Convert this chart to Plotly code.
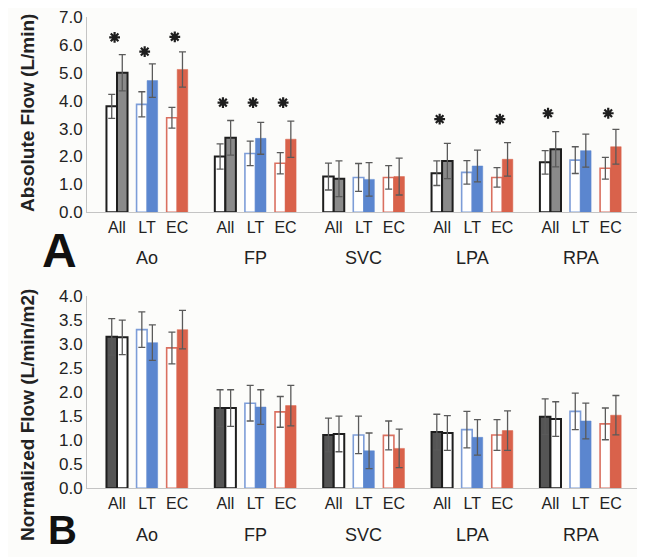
import plotly.graph_objects as go

# ---------------- data ----------------
vessels = ["Ao", "FP", "SVC", "LPA", "RPA"]
subgroups = ["All", "LT", "EC"]

# Panel A: absolute flow (L/min), two bars per subgroup
abs_all_1 = [3.80, 2.00, 1.28, 1.40, 1.79]
abs_all_1_sd = [0.43, 0.45, 0.48, 0.44, 0.42]
abs_all_2 = [5.00, 2.67, 1.20, 1.84, 2.26]
abs_all_2_sd = [0.65, 0.62, 0.64, 0.63, 0.63]
abs_lt_1 = [3.87, 2.11, 1.25, 1.43, 1.87]
abs_lt_1_sd = [0.45, 0.44, 0.50, 0.42, 0.48]
abs_lt_2 = [4.72, 2.65, 1.18, 1.66, 2.21]
abs_lt_2_sd = [0.60, 0.57, 0.60, 0.57, 0.59]
abs_ec_1 = [3.39, 1.76, 1.25, 1.25, 1.58]
abs_ec_1_sd = [0.37, 0.38, 0.42, 0.35, 0.39]
abs_ec_2 = [5.12, 2.62, 1.28, 1.90, 2.35]
abs_ec_2_sd = [0.63, 0.65, 0.66, 0.60, 0.62]

# significance stars in panel A
star_vessel = ["Ao", "Ao", "Ao", "FP", "FP", "FP", "LPA", "LPA", "RPA", "RPA"]
star_sub = ["All", "LT", "EC", "All", "LT", "EC", "All", "EC", "All", "EC"]
star_y = [6.27, 5.76, 6.29, 3.93, 3.93, 3.93, 3.34, 3.34, 3.55, 3.55]

# Panel B: normalized flow (L/min/m2)
norm_all_1 = [3.15, 1.67, 1.11, 1.17, 1.49]
norm_all_1_sd = [0.38, 0.38, 0.35, 0.37, 0.37]
norm_all_2 = [3.14, 1.67, 1.13, 1.15, 1.44]
norm_all_2_sd = [0.36, 0.38, 0.37, 0.36, 0.36]
norm_lt_1 = [3.30, 1.77, 1.11, 1.22, 1.60]
norm_lt_1_sd = [0.37, 0.37, 0.39, 0.38, 0.38]
norm_lt_2 = [3.03, 1.69, 0.78, 1.06, 1.40]
norm_lt_2_sd = [0.37, 0.36, 0.37, 0.37, 0.37]
norm_ec_1 = [2.92, 1.59, 1.10, 1.11, 1.34]
norm_ec_1_sd = [0.33, 0.32, 0.30, 0.32, 0.33]
norm_ec_2 = [3.30, 1.72, 0.83, 1.20, 1.52]
norm_ec_2_sd = [0.40, 0.42, 0.40, 0.41, 0.41]

# ---------------- style / layout ----------------
PAGE_OFF = 8     # default body margin of the page
W, H = 645 - PAGE_OFF, 557 - PAGE_OFF
GSTEP = 3.6      # distance between vessel groups (axis units)
BW = 0.35        # bar width
FONT = "Liberation Sans, Arial, sans-serif"
TXT = "#222222"
ERRC = "#5a5a5a"
BLACK = "#1e1e1e"
GREY_A = "#8a8a8a"
GREY_B = "#555555"
BLUE = "#5b86cf"
BLUE_L = "#7d9dd8"
RED = "#d9624b"
RED_L = "#da7060"
WHITE = "#ffffff"
BG = "#fcfcfa"


def px_y(p):
    return 1 - (p - PAGE_OFF) / H


def px_x(p):
    return (p - PAGE_OFF) / W


def xpos(sub):
    si = subgroups.index(sub)
    return [GSTEP * gi + si for gi in range(len(vessels))]


fig = go.Figure()


def add_bar(sub, side, vals, errs, fill, lc, lw, xa, ya):
    fig.add_trace(go.Bar(
        x=xpos(sub), y=vals, width=BW, offset=-BW if side == 0 else 0.0,
        marker=dict(color=fill, line=dict(color=lc, width=lw)),
        error_y=dict(type="data", array=errs, color=ERRC, thickness=1.3, width=3.5),
        xaxis=xa, yaxis=ya, showlegend=False, hoverinfo="y"))


# Panel A
add_bar("All", 0, abs_all_1, abs_all_1_sd, WHITE, BLACK, 2, "x", "y")
add_bar("All", 1, abs_all_2, abs_all_2_sd, GREY_A, BLACK, 2, "x", "y")
add_bar("LT", 0, abs_lt_1, abs_lt_1_sd, WHITE, BLUE_L, 1.6, "x", "y")
add_bar("LT", 1, abs_lt_2, abs_lt_2_sd, BLUE, BLUE, 0.5, "x", "y")
add_bar("EC", 0, abs_ec_1, abs_ec_1_sd, WHITE, RED_L, 1.6, "x", "y")
add_bar("EC", 1, abs_ec_2, abs_ec_2_sd, RED, RED, 0.5, "x", "y")

# stars
sx = [GSTEP * vessels.index(v) + subgroups.index(s) - 0.08 for v, s in zip(star_vessel, star_sub)]
fig.add_trace(go.Scatter(
    x=sx, y=star_y, mode="markers",
    marker=dict(symbol="asterisk-open", size=9, color=BLACK, line=dict(color=BLACK, width=2.2)),
    xaxis="x", yaxis="y", showlegend=False, hoverinfo="skip"))

# Panel B
add_bar("All", 0, norm_all_1, norm_all_1_sd, GREY_B, BLACK, 2, "x2", "y2")
add_bar("All", 1, norm_all_2, norm_all_2_sd, WHITE, BLACK, 2, "x2", "y2")
add_bar("LT", 0, norm_lt_1, norm_lt_1_sd, WHITE, BLUE_L, 1.6, "x2", "y2")
add_bar("LT", 1, norm_lt_2, norm_lt_2_sd, BLUE, BLUE, 0.5, "x2", "y2")
add_bar("EC", 0, norm_ec_1, norm_ec_1_sd, WHITE, RED_L, 1.6, "x2", "y2")
add_bar("EC", 1, norm_ec_2, norm_ec_2_sd, RED, RED, 0.5, "x2", "y2")

tickvals = [GSTEP * gi + si for gi in range(len(vessels)) for si in range(len(subgroups))]
ticktext = [s for _ in vessels for s in subgroups]

xrange = [-(117 - 87) / 30.1, (640 - 117) / 30.1]
xdom = [px_x(87), min(1.0, px_x(640))]

xcommon = dict(range=xrange, domain=xdom, showline=True, linecolor="#c4c4c4", linewidth=1,
               showgrid=False, zeroline=False, ticks="", tickvals=tickvals, ticktext=ticktext,
               tickfont=dict(size=16, color=TXT, family=FONT), automargin=False)
ycommon = dict(showline=True, linecolor="#c4c4c4", linewidth=1, showgrid=False, zeroline=False,
               ticks="", tickformat=".1f", tickfont=dict(size=17, color=TXT, family=FONT),
               automargin=False, ticklabeloverflow="allow")

fig.update_layout(
    width=W, height=H, margin=dict(l=0, r=0, t=0, b=0),
    paper_bgcolor=BG, plot_bgcolor=BG, barmode="overlay",
    font=dict(family=FONT, color=TXT),
    xaxis=dict(**xcommon, anchor="y"),
    yaxis=dict(**ycommon, range=[0, 7], dtick=1, domain=[px_y(212.3), px_y(17)], anchor="x"),
    xaxis2=dict(**xcommon, anchor="y2"),
    yaxis2=dict(**ycommon, range=[0, 4], dtick=0.5, domain=[px_y(488.3), px_y(296)], anchor="x2"),
)

ann = []
for gi, v in enumerate(vessels):
    for xr, yp in (("x", 258), ("x2", 535)):
        ann.append(dict(x=GSTEP * gi + 1, y=px_y(yp), xref=xr, yref="paper", text=v,
                        showarrow=False, xanchor="center", yanchor="middle",
                        font=dict(size=18, color=TXT, family=FONT)))
ann.append(dict(x=px_x(27), y=px_y(113), xref="paper", yref="paper",
                text="<b>Absolute Flow (L/min)</b>", textangle=-90, showarrow=False,
                xanchor="center", yanchor="middle", font=dict(size=19, color=TXT, family=FONT)))
ann.append(dict(x=px_x(27), y=px_y(415), xref="paper", yref="paper",
                text="<b>Normalized Flow (L/min/m2)</b>", textangle=-90, showarrow=False,
                xanchor="center", yanchor="middle", font=dict(size=19, color=TXT, family=FONT)))
ann.append(dict(x=px_x(79), y=px_y(250), xref="paper", yref="paper", text="<b>A</b>",
                showarrow=False, xanchor="right", yanchor="middle",
                font=dict(size=48, color="#111111", family=FONT)))
ann.append(dict(x=px_x(79), y=px_y(530), xref="paper", yref="paper", text="<b>B</b>",
                showarrow=False, xanchor="right", yanchor="middle",
                font=dict(size=40, color="#111111", family=FONT)))
fig.update_layout(annotations=ann)

fig.write_html("out.html")
